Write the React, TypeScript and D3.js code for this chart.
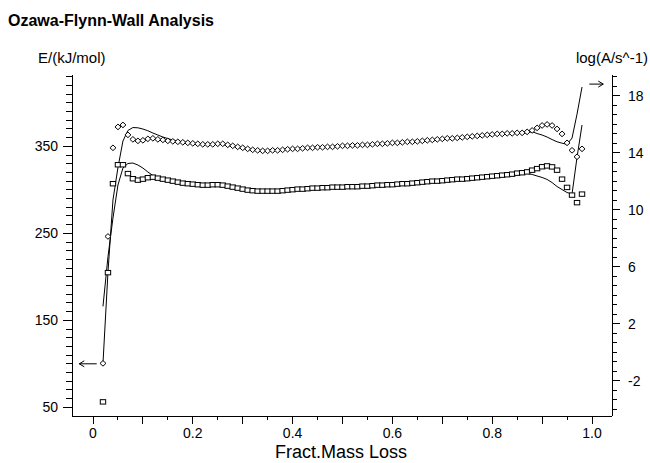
import React from 'react';
import * as d3 from 'd3';

const W = 650;
const H = 463;

// Fract. mass loss values of the measured points
const fract = [
  0.02, 0.03, 0.04, 0.05, 0.06, 0.07, 0.08, 0.09, 0.10, 0.11, 0.12, 0.13, 0.14, 0.15, 0.16, 0.17,
  0.18, 0.19, 0.20, 0.21, 0.22, 0.23, 0.24, 0.25, 0.26, 0.27, 0.28, 0.29, 0.30, 0.31, 0.32, 0.33,
  0.34, 0.35, 0.36, 0.37, 0.38, 0.39, 0.40, 0.41, 0.42, 0.43, 0.44, 0.45, 0.46, 0.47, 0.48, 0.49,
  0.50, 0.51, 0.52, 0.53, 0.54, 0.55, 0.56, 0.57, 0.58, 0.59, 0.60, 0.61, 0.62, 0.63, 0.64, 0.65,
  0.66, 0.67, 0.68, 0.69, 0.70, 0.71, 0.72, 0.73, 0.74, 0.75, 0.76, 0.77, 0.78, 0.79, 0.80, 0.81,
  0.82, 0.83, 0.84, 0.85, 0.86, 0.87, 0.88, 0.89, 0.90, 0.91, 0.92, 0.93, 0.94, 0.95, 0.96, 0.97, 0.98,
];

// Activation energy E/(kJ/mol), diamonds, left axis
const energyE = [
  100.5, 246.4, 348.3, 372.3, 374.6, 363.2, 358.0, 356.3, 356.9, 358.6, 359.2, 358.0, 357.4, 356.3, 355.7, 355.2,
  354.6, 354.0, 353.4, 352.9, 352.3, 352.3, 352.3, 352.9, 352.9, 351.7, 350.6, 349.4, 348.3, 347.1, 346.0, 345.4,
  344.8, 344.8, 345.4, 345.4, 346.0, 346.6, 347.1, 347.1, 347.7, 348.3, 348.3, 348.9, 348.9, 349.4, 349.4, 350.0,
  350.6, 350.6, 351.1, 351.1, 351.7, 351.7, 352.3, 352.9, 352.9, 353.4, 354.0, 354.0, 354.6, 355.2, 355.2, 355.7,
  356.3, 356.9, 357.4, 358.0, 358.6, 359.2, 359.2, 359.7, 360.3, 360.9, 361.5, 362.0, 362.6, 363.2, 363.7, 364.3,
  364.3, 364.9, 364.9, 365.5, 365.5, 366.6, 368.3, 371.2, 374.0, 375.2, 374.0, 370.0, 364.3, 354.0, 345.4, 338.0, 347.1,
];

// log(A/s^-1), squares, right axis
const logA = [
  -3.50, 5.57, 11.81, 13.14, 13.14, 12.52, 12.16, 12.06, 12.13, 12.23, 12.27, 12.20, 12.13, 12.06, 11.99, 11.92,
  11.85, 11.81, 11.78, 11.74, 11.71, 11.71, 11.74, 11.74, 11.71, 11.64, 11.57, 11.50, 11.43, 11.36, 11.32, 11.29,
  11.29, 11.29, 11.29, 11.29, 11.32, 11.36, 11.39, 11.43, 11.43, 11.46, 11.50, 11.50, 11.53, 11.53, 11.57, 11.57,
  11.57, 11.60, 11.60, 11.60, 11.64, 11.64, 11.67, 11.71, 11.71, 11.74, 11.74, 11.78, 11.81, 11.81, 11.85, 11.88,
  11.92, 11.95, 11.99, 11.99, 12.02, 12.06, 12.09, 12.13, 12.13, 12.16, 12.20, 12.23, 12.27, 12.30, 12.34, 12.37,
  12.41, 12.44, 12.48, 12.55, 12.58, 12.64, 12.76, 12.87, 13.00, 13.06, 12.99, 12.76, 12.13, 11.55, 11.01, 10.48, 11.08,
];

// Fitted curve for E (left axis)
const fitEFract = [
  0.02, 0.03, 0.04, 0.05, 0.06, 0.07, 0.08, 0.09, 0.10, 0.11, 0.12, 0.13, 0.14, 0.15, 0.16, 0.18, 0.20, 0.22,
  0.25, 0.28, 0.30, 0.33, 0.35, 0.38, 0.40, 0.45, 0.50, 0.55, 0.60, 0.65, 0.70, 0.75, 0.80, 0.85,
  0.86, 0.87, 0.88, 0.89, 0.90, 0.91, 0.92, 0.93, 0.94, 0.95, 0.96, 0.97, 0.98,
];
const fitE = [
  100.5, 205.5, 288.3, 325.6, 356.1, 368.2, 371.6, 371.3, 369.9, 367.9, 365.3, 363.0, 360.7, 358.9, 357.2, 355.2, 353.8, 352.6,
  352.8, 350.6, 348.3, 345.6, 345.0, 346.0, 347.1, 348.9, 350.6, 351.7, 354.0, 355.7, 358.6, 360.9, 363.7, 365.3,
  364.9, 365.9, 366.8, 364.7, 363.0, 360.7, 357.8, 355.2, 353.6, 352.3, 359.5, 387.0, 418.2,
];

// Fitted curve for log A (right axis)
const fitAFract = [
  0.02, 0.03, 0.04, 0.05, 0.06, 0.07, 0.08, 0.09, 0.10, 0.11, 0.12, 0.13, 0.14, 0.15, 0.16, 0.18, 0.20, 0.22,
  0.25, 0.28, 0.30, 0.33, 0.35, 0.38, 0.40, 0.45, 0.50, 0.55, 0.60, 0.65, 0.70, 0.75, 0.80, 0.85,
  0.86, 0.87, 0.88, 0.89, 0.90, 0.91, 0.92, 0.93, 0.94, 0.95, 0.96, 0.97, 0.98,
];
const fitA = [
  3.2, 6.69, 9.4, 11.72, 12.91, 13.23, 13.26, 13.12, 12.91, 12.63, 12.39, 12.21, 12.07, 11.98, 11.91, 11.79, 11.68, 11.70,
  11.73, 11.57, 11.43, 11.30, 11.29, 11.32, 11.39, 11.50, 11.57, 11.64, 11.74, 11.88, 12.02, 12.16, 12.34, 12.53,
  12.56, 12.53, 12.46, 12.35, 12.25, 12.11, 11.89, 11.61, 11.40, 11.19, 11.09, 13.66, 15.93,
];

const xTickLabels = ['0', '0.2', '0.4', '0.6', '0.8', '1.0'];
const leftTickLabels = ['50', '150', '250', '350'];
const rightTickLabels = ['-2', '2', '6', '10', '14', '18'];

const FONT = '"Liberation Sans", Arial, Helvetica, sans-serif';

export default function App() {
  const L = 72, R = 612, T = 75, B = 416;
  const x = d3.scaleLinear().domain([0, 1]).range([93, 592]);
  const yL = d3.scaleLinear().domain([40, 432]).range([B, T]);
  const yR = d3.scaleLinear().domain([-2, 18]).range([380.5, 95.5]);

  const lineE = d3.line<number>().x((_, i) => x(fitEFract[i])).y((d) => yL(d)).curve(d3.curveLinear);
  const lineA = d3.line<number>().x((_, i) => x(fitAFract[i])).y((d) => yR(d)).curve(d3.curveLinear);

  // ticks
  const xTicks: { v: number; major: boolean }[] = [];
  for (let k = 0; k <= 20; k++) xTicks.push({ v: k * 0.05, major: k % 2 === 0 });
  const lTicks: { v: number; major: boolean }[] = [];
  for (let v = 50; v <= 430; v += 10) lTicks.push({ v, major: (v - 50) % 100 === 0 });
  const rTicks: { v: number; major: boolean }[] = [];
  for (let k = -3; k <= 32; k++) {
    const v = -2 + (k * 2) / 3;
    if (yR(v) >= T && yR(v) <= B) rTicks.push({ v, major: k % 6 === 0 });
  }

  const diamond = 'M0,-2.8L3,0L0,2.8L-3,0Z';

  return (
    <svg
      width={W}
      height={H}
      viewBox={`0 0 ${W} ${H}`}
      style={{ position: 'fixed', left: 0, top: 0, background: '#fff' }}
      fontFamily={FONT}
    >
      <rect x={0} y={0} width={W} height={H} fill="#fff" />
      <text x={8} y={26} fontSize={16} fontWeight="bold" fill="#000">Ozawa-Flynn-Wall Analysis</text>
      <text x={38} y={63} fontSize={15} fill="#000">E/(kJ/mol)</text>
      <text x={648} y={63} fontSize={15} fill="#000" textAnchor="end">log(A/s^-1)</text>

      {/* axes */}
      <g stroke="#000" strokeWidth={1} fill="none" shapeRendering="crispEdges">
        <line x1={L} y1={T} x2={L} y2={B} />
        <line x1={L} y1={B} x2={R} y2={B} />
        <line x1={R} y1={T} x2={R} y2={B} />
        {xTicks.map((t, i) => (
          <line key={'xt' + i} x1={x(t.v)} x2={x(t.v)} y1={B} y2={B + (t.major ? 8 : 4)} />
        ))}
        {lTicks.map((t, i) => (
          <line key={'lt' + i} x1={L - (t.major ? 9 : 6)} x2={L} y1={yL(t.v)} y2={yL(t.v)} />
        ))}
        {rTicks.map((t, i) => (
          <line key={'rt' + i} x1={R} x2={R + (t.major ? 8 : 5)} y1={yR(t.v)} y2={yR(t.v)} />
        ))}
      </g>

      {xTickLabels.map((s, i) => (
        <text key={'xl' + i} x={x(i * 0.2)} y={438} fontSize={14} textAnchor="middle" fill="#000">{s}</text>
      ))}
      {leftTickLabels.map((s) => (
        <text key={'ll' + s} x={58} y={yL(+s) + 5} fontSize={14} textAnchor="end" fill="#000">{s}</text>
      ))}
      {rightTickLabels.map((s) => (
        <text key={'rl' + s} x={628} y={yR(+s) + 5} fontSize={14} textAnchor="start" fill="#000">{s}</text>
      ))}
      <text x={341} y={458} fontSize={18} textAnchor="middle" fill="#000">Fract.Mass Loss</text>

      {/* fitted lines */}
      <path d={lineE(fitE) || ''} fill="none" stroke="#000" strokeWidth={1} />
      <path d={lineA(fitA) || ''} fill="none" stroke="#000" strokeWidth={1} />

      {/* markers */}
      {energyE.map((v, i) => (
        <path key={'d' + i} d={diamond} transform={`translate(${x(fract[i])},${yL(v)})`} fill="#fff" stroke="#000" strokeWidth={1} />
      ))}
      {logA.map((v, i) => (
        <rect key={'s' + i} x={x(fract[i]) - 2.7} y={yR(v) - 2.2} width={5.4} height={4.4} fill="#fff" stroke="#000" strokeWidth={1} />
      ))}

      {/* arrows */}
      <g stroke="#000" strokeWidth={1} fill="none">
        <line x1={x(0.0074)} x2={x(-0.0275)} y1={yL(100)} y2={yL(100)} />
        <polyline points={`${x(-0.0275) + 5},${yL(100) - 3} ${x(-0.0275)},${yL(100)} ${x(-0.0275) + 5},${yL(100) + 3}`} />
        <line x1={x(0.9946)} x2={x(1.0226)} y1={yR(18.8)} y2={yR(18.8)} />
        <polyline points={`${x(1.0226) - 5},${yR(18.8) - 3} ${x(1.0226)},${yR(18.8)} ${x(1.0226) - 5},${yR(18.8) + 3}`} />
      </g>
    </svg>
  );
}
